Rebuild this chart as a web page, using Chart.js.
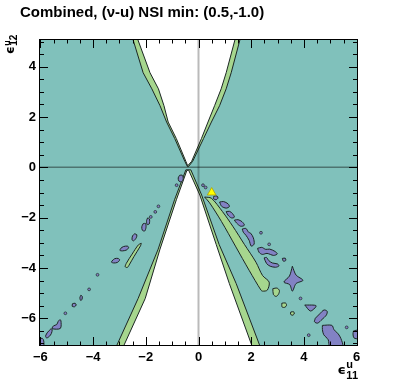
<!DOCTYPE html>
<html>
<head>
<meta charset="utf-8">
<script src="https://cdn.jsdelivr.net/npm/chart.js@4.4.1/dist/chart.umd.min.js"></script>
<style>
  html, body { margin: 0; padding: 0; background: #fff; }
  #wrap { width: 399px; height: 385px; }
</style>
</head>
<body>
<div id="wrap"><canvas id="chart" width="399" height="385"></canvas></div>
<script>
const xRange = [-6.05, 6.05];
const yRange = [-7.1, 5.1];
const xTicks = [-6, -4, -2, 0, 2, 4, 6];
const yTicks = [-6, -4, -2, 0, 2, 4];
const bestFit = [[0.5, -1.0]];

// whole plane (outer region)
const fullPlane = [[-6.05, 5.1], [6.05, 5.1], [6.05, -7.1], [-6.05, -7.1]];

// upper hourglass: green band edge, then white interior
const greenTop = [[-2.49, 5.1], [-2.10, 3.76], [-1.77, 3.12], [-1.46, 2.45], [-1.21, 1.80], [-0.90, 1.14], [-0.52, 0.24], [-0.42, 0.03],
  [-0.38, 0.03], [-0.22, 0.24], [0.19, 1.14], [0.49, 1.80], [0.80, 2.45], [1.05, 3.12], [1.24, 3.76], [1.58, 5.1]];
const whiteTop = [[-2.31, 5.1], [-1.84, 3.76], [-1.52, 3.12], [-1.31, 2.45], [-1.15, 1.80], [-0.84, 1.14], [-0.48, 0.24], [-0.41, 0.06],
  [-0.26, 0.24], [0.11, 1.14], [0.36, 1.80], [0.61, 2.45], [0.86, 3.12], [1.05, 3.76], [1.39, 5.1]];

// lower hourglass
const greenBottom = [[-0.48, -0.10], [-0.91, -1.29], [-1.53, -3.25], [-2.29, -5.21], [-3.11, -7.1],
  [2.33, -7.1], [1.43, -4.62], [0.78, -3.06], [0.12, -1.10], [-0.29, -0.10]];
const whiteBottom = [[-0.44, -0.12], [-0.84, -1.29], [-1.46, -3.25], [-2.02, -5.21], [-2.84, -7.1],
  [2.03, -7.1], [1.17, -4.62], [0.67, -3.06], [0.05, -1.10], [-0.37, -0.12]];

// green islands
const greenIslands = [
  [[0.23, -1.18], [0.49, -1.23], [0.91, -1.76], [1.30, -2.34], [1.74, -3.06], [2.18, -3.77], [2.43, -4.30], [2.68, -4.56],
   [2.61, -4.88], [2.43, -4.92], [2.37, -4.88], [1.93, -4.11], [1.40, -3.13], [0.87, -2.15], [0.42, -1.41]],
  [[2.82, -4.82], [2.98, -4.80], [3.07, -4.90], [3.03, -5.05], [2.94, -5.13], [2.84, -5.05]],
  [[3.16, -5.40], [3.30, -5.39], [3.34, -5.48], [3.28, -5.56], [3.17, -5.55]],
  [[3.50, -5.75], [3.61, -5.74], [3.63, -5.83], [3.55, -5.88], [3.49, -5.83]],
  [[-2.17, -3.02], [-2.20, -3.12], [-2.45, -3.55], [-2.63, -3.88], [-2.70, -3.98], [-2.78, -3.95], [-2.74, -3.82], [-2.52, -3.45], [-2.28, -3.08]]
];

// purple islands
const purpleRight = [
  [[0.58, -1.15], [0.70, -1.14], [0.74, -1.22], [0.66, -1.29], [0.57, -1.24]],
  [[0.80, -1.38], [0.95, -1.36], [1.12, -1.45], [1.17, -1.56], [1.05, -1.62], [0.88, -1.55]],
  [[1.05, -1.76], [1.18, -1.75], [1.30, -1.85], [1.36, -1.98], [1.25, -2.01], [1.12, -1.90]],
  [[1.36, -2.10], [1.50, -2.08], [1.65, -2.16], [1.74, -2.30], [1.60, -2.34], [1.45, -2.22]],
  [[1.66, -2.45], [1.80, -2.43], [1.90, -2.58], [1.98, -2.62], [2.08, -2.80], [2.11, -3.05], [2.00, -3.13], [1.92, -2.90], [1.80, -2.70], [1.70, -2.58]],
  [[2.24, -3.22], [2.40, -3.18], [2.55, -3.26], [2.70, -3.25], [2.90, -3.34], [2.99, -3.44], [2.85, -3.50], [2.60, -3.42], [2.42, -3.46], [2.30, -3.38]],
  [[2.49, -3.60], [2.58, -3.58], [2.66, -3.70], [2.80, -3.80], [3.00, -3.84], [3.05, -3.92], [2.92, -3.97], [2.72, -3.93], [2.58, -3.82]],
  [[3.18, -3.62], [3.29, -3.61], [3.31, -3.70], [3.22, -3.73]],
  [[3.56, -3.93], [3.70, -4.28], [3.96, -4.49], [3.70, -4.62], [3.56, -4.92], [3.46, -4.66], [3.24, -4.56], [3.45, -4.32]],
  [[4.03, -5.47], [4.46, -5.50], [4.25, -5.71]],
  [[4.43, -6.00], [4.60, -5.82], [4.76, -5.67], [4.88, -5.72], [4.85, -5.87], [4.68, -6.05], [4.52, -6.19], [4.40, -6.14]],
  [[4.70, -6.28], [5.06, -6.28], [5.14, -6.45], [5.30, -6.62], [5.40, -6.80], [5.46, -7.1], [4.98, -7.1], [4.92, -6.85], [4.75, -6.65], [4.70, -6.45]],
  [[5.88, -6.50], [6.05, -6.48], [6.05, -6.80], [5.90, -6.78], [5.86, -6.62]]
];
const purpleLeft = [
  [[-0.72, -0.32], [-0.62, -0.31], [-0.58, -0.45], [-0.63, -0.57], [-0.74, -0.55], [-0.77, -0.42]],
  [[-1.93, -2.01], [-1.86, -2.05], [-1.87, -2.25], [-1.95, -2.27], [-1.97, -2.12]],
  [[-2.10, -2.24], [-2.01, -2.23], [-1.99, -2.38], [-2.04, -2.53], [-2.13, -2.50], [-2.15, -2.36]],
  [[-2.42, -2.64], [-2.34, -2.68], [-2.36, -2.80], [-2.46, -2.92], [-2.52, -2.88], [-2.50, -2.72]],
  [[-2.95, -3.22], [-2.85, -3.15], [-2.70, -3.13], [-2.65, -3.18], [-2.72, -3.28], [-2.88, -3.32], [-2.98, -3.30]],
  [[-3.28, -3.72], [-3.18, -3.63], [-3.05, -3.62], [-2.99, -3.68], [-3.08, -3.78], [-3.22, -3.80], [-3.30, -3.77]],
  [[-4.46, -5.08], [-4.41, -5.13], [-4.42, -5.25], [-4.47, -5.29], [-4.50, -5.18]],
  [[-4.78, -5.42], [-4.68, -5.40], [-4.64, -5.47], [-4.70, -5.54], [-4.79, -5.52]],
  [[-5.27, -6.06], [-5.22, -6.08], [-5.24, -6.40], [-5.55, -6.41], [-5.50, -6.30], [-5.38, -6.25], [-5.32, -6.12]],
  [[-5.60, -6.42], [-5.55, -6.44], [-5.58, -6.60], [-5.66, -6.72], [-5.76, -6.78], [-5.80, -6.70], [-5.72, -6.55]],
  [[-6.05, -6.80], [-5.92, -6.80], [-5.87, -6.90], [-5.88, -7.1], [-6.05, -7.1]]
];
const tinyDots = [[0.17, -0.71], [0.27, -0.80], [2.37, -2.60], [2.68, -3.06], [3.87, -5.21], [4.18, -6.67], [5.62, -6.36],
  [-0.83, -0.71], [-1.52, -1.55], [-1.64, -1.77], [-1.81, -1.97], [-3.83, -4.27], [-4.15, -4.85], [-5.05, -5.80]];

const zeroH = [[-6.05, 0], [6.05, 0]];
const zeroV = [[0, -7.1], [0, 5.1]];

const TEAL = '#80c1bb';
const GREEN = '#a6d68e';
const PURPLE = '#8282c4';
const EDGE = '#1c2624';
const FONT = '"Liberation Sans", Arial, Helvetica, sans-serif';

function pts(arr) {
  return arr.map(([x, y]) => ({ x, y }));
}

// closed filled contour
function poly(arr, color, order, extra) {
  return Object.assign({
    data: pts(arr.concat([arr[0]])),
    showLine: true,
    fill: 'shape',
    backgroundColor: color,
    borderColor: EDGE,
    borderWidth: 1,
    pointRadius: 0,
    tension: 0,
    order
  }, extra || {});
}

const datasets = [];
datasets.push(poly(fullPlane, TEAL, 10, { borderWidth: 0 }));
datasets.push(poly(greenTop, GREEN, 9));
datasets.push(poly(greenBottom, GREEN, 9));
datasets.push(poly(whiteTop, '#ffffff', 8));
datasets.push(poly(whiteBottom, '#ffffff', 8));
greenIslands.forEach(g => datasets.push(poly(g, GREEN, 7, { tension: 0.3 })));
purpleRight.concat(purpleLeft).forEach(p => datasets.push(poly(p, PURPLE, 6, { tension: 0.3 })));
datasets.push({
  data: pts(tinyDots), pointRadius: 1.4, pointBackgroundColor: PURPLE,
  pointBorderColor: EDGE, pointBorderWidth: 0.7, order: 5
});
datasets.push({ data: pts(zeroH), showLine: true, borderColor: 'rgba(0,0,0,0.4)', borderWidth: 1.5, pointRadius: 0, order: 2 });
datasets.push({ data: pts(zeroV), showLine: true, borderColor: 'rgba(0,0,0,0.27)', borderWidth: 2, pointRadius: 0, order: 2 });
datasets.push({
  data: pts(bestFit), pointStyle: 'triangle', pointRadius: 5,
  pointBackgroundColor: '#ffff00', pointBorderColor: '#b0a000', pointBorderWidth: 0.8, order: 0
});

const minus = v => (v < 0 ? '\u2212' + Math.abs(v) : String(v));

// frame, inside ticks and titles
const decor = {
  id: 'decor',
  afterDatasetsDraw(chart) {
    const { ctx, chartArea: a, scales: { x, y } } = chart;
    ctx.save();
    ctx.strokeStyle = '#000';
    ctx.lineWidth = 1;
    ctx.beginPath();
    for (let v = -6; v <= 6 + 1e-9; v += 0.5) {
      const px = Math.round(x.getPixelForValue(v)) + 0.5;
      const len = xTicks.includes(v) ? 9 : 4.5;
      ctx.moveTo(px, a.bottom); ctx.lineTo(px, a.bottom - len);
      ctx.moveTo(px, a.top); ctx.lineTo(px, a.top + len);
    }
    for (let v = -7; v <= 5 + 1e-9; v += 0.5) {
      const py = Math.round(y.getPixelForValue(v)) + 0.5;
      const len = yTicks.includes(v) ? 9 : 5;
      ctx.moveTo(a.left, py); ctx.lineTo(a.left + len, py);
      ctx.moveTo(a.right, py); ctx.lineTo(a.right - len, py);
    }
    ctx.stroke();
    ctx.strokeRect(a.left + 0.5, a.top + 0.5, a.right - a.left - 1, a.bottom - a.top - 1);
    ctx.restore();
  },
  afterDraw(chart) {
    const { ctx, chartArea: a } = chart;
    ctx.save();
    ctx.fillStyle = '#000';
    ctx.textBaseline = 'alphabetic';
    ctx.textAlign = 'left';
    ctx.font = 'bold 15px ' + FONT;
    ctx.fillText('Combined, (\u03bd-u) NSI min: (0.5,-1.0)', 20, 17);

    // x title: eps^u_11, right aligned at the frame
    ctx.font = 'bold 11px ' + FONT;
    const w11 = ctx.measureText('11').width;
    const sx = a.right - w11;
    ctx.fillText('u', sx, 368);
    ctx.fillText('11', sx, 378.5);
    ctx.font = 'bold 13px "DejaVu Sans", sans-serif';
    const we = ctx.measureText('\u03f5').width;
    ctx.fillText('\u03f5', sx - we - 0.5, 374);

    // y title: eps^u_12, rotated
    ctx.translate(13.5, 54);
    ctx.rotate(-Math.PI / 2);
    ctx.font = 'bold 12px "DejaVu Sans", sans-serif';
    ctx.fillText('\u03f5', 0, 0);
    const we2 = ctx.measureText('\u03f5').width + 0.5;
    ctx.font = 'bold 9px ' + FONT;
    ctx.fillText('u', we2, -3.5);
    ctx.font = 'bold 10px ' + FONT;
    ctx.fillText('12', we2, 3.5);
    ctx.restore();
  }
};

new Chart(document.getElementById('chart'), {
  type: 'scatter',
  data: { datasets },
  options: {
    responsive: false,
    animation: false,
    events: [],
    layout: { padding: { top: 39, right: 41, left: 0, bottom: 0 } },
    plugins: { legend: { display: false }, tooltip: { enabled: false }, title: { display: false } },
    scales: {
      x: {
        type: 'linear', position: 'bottom', min: xRange[0], max: xRange[1],
        grid: { display: false, drawTicks: false }, border: { display: false },
        afterBuildTicks: s => { s.ticks = xTicks.map(v => ({ value: v })); },
        afterFit: s => { s.height = 39; },
        ticks: { padding: 4, maxRotation: 0, autoSkip: false, color: '#000',
          font: { family: FONT, size: 13, weight: 'bold' }, callback: v => minus(v) }
      },
      y: {
        type: 'linear', position: 'left', min: yRange[0], max: yRange[1],
        grid: { display: false, drawTicks: false }, border: { display: false },
        afterBuildTicks: s => { s.ticks = yTicks.map(v => ({ value: v })); },
        afterFit: s => { s.width = 39; },
        ticks: { padding: 3, autoSkip: false, color: '#000',
          font: { family: FONT, size: 13, weight: 'bold' }, callback: v => minus(v) }
      }
    }
  },
  plugins: [decor]
});
</script>
</body>
</html>
